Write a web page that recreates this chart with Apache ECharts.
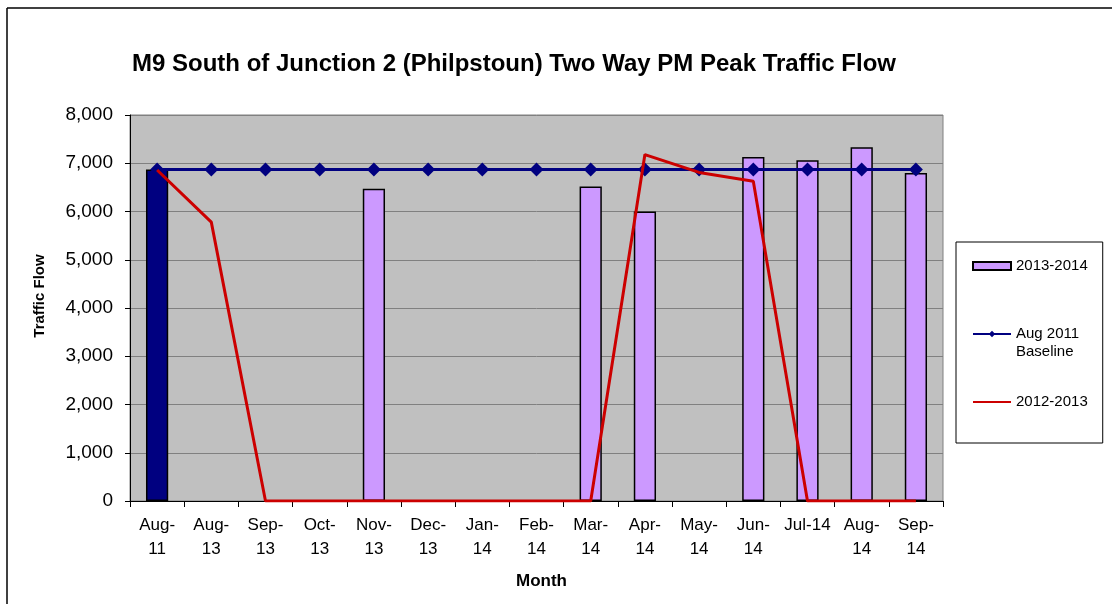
<!DOCTYPE html>
<html>
<head>
<meta charset="utf-8">
<script src="https://cdn.jsdelivr.net/npm/echarts@6/dist/echarts.min.js"></script>
<style>
  html, body {margin: 0; padding: 0; background: #fff;}
  #chart {width: 1112px; height: 604px;}
</style>
</head>
<body>
<div id="chart"></div>
<script>
const months = ['Aug-\n11', 'Aug-\n13', 'Sep-\n13', 'Oct-\n13', 'Nov-\n13', 'Dec-\n13', 'Jan-\n14', 'Feb-\n14',
    'Mar-\n14', 'Apr-\n14', 'May-\n14', 'Jun-\n14', 'Jul-14', 'Aug-\n14', 'Sep-\n14'];
const flow2013 = [6870, null, null, null, 6470, null, null, null, 6520, 6000, null, 7130, 7060, 7330, 6800];
const baseline2011 = [6870, 6870, 6870, 6870, 6870, 6870, 6870, 6870, 6870, 6870, 6870, 6870, 6870, 6870, 6870];
const flow2012 = [6860, 5780, 0, 0, 0, 0, 0, 0, 0, 7180, 6810, 6625, 0, 0, 0];
const yTicks = [0, 1000, 2000, 3000, 4000, 5000, 6000, 7000, 8000];

const font = 'Liberation Sans, Arial, sans-serif';
const chart = echarts.init(document.getElementById('chart'));

// first bar (Aug-11) is drawn navy, the rest lavender
const barData = flow2013.map((v, i) => i === 0
    ? {value: v, itemStyle: {color: '#000080'}}
    : v);

chart.setOption({
    animation: false,
    backgroundColor: '#fff',
    title: {
        text: 'M9 South of Junction 2 (Philpstoun) Two Way PM Peak Traffic Flow',
        left: 127,
        top: 47,
        textStyle: {fontFamily: font, fontSize: 24, fontWeight: 'bold', color: '#000'},
    },
    legend: {
        orient: 'vertical',
        left: 956,
        top: 242,
        padding: [15, 15, 32, 16],
        itemGap: 32,
        itemWidth: 38,
        itemHeight: 8,
        borderColor: '#000',
        borderWidth: 1,
        backgroundColor: '#fff',
        textStyle: {fontFamily: font, fontSize: 15, color: '#000', lineHeight: 18},
        formatter: name => name === 'Aug 2011 Baseline' ? '\nAug 2011\nBaseline' : name,
        data: [
            {name: '2013-2014', icon: 'rect'},
            {name: 'Aug 2011 Baseline'},
            {name: '2012-2013', itemStyle: {opacity: 0}},
        ],
    },
    graphic: [
        {type: 'line', shape: {x1: 7, y1: 8, x2: 1112, y2: 8}, style: {stroke: '#000', lineWidth: 1.5}},
        {type: 'line', shape: {x1: 7, y1: 8, x2: 7, y2: 604}, style: {stroke: '#000', lineWidth: 1.5}},
    ],
    grid: {
        left: 130, right: 169, top: 115, bottom: 103,
        show: true, backgroundColor: '#C0C0C0', borderColor: '#808080', borderWidth: 1,
    },
    xAxis: {
        type: 'category',
        data: months,
        name: 'Month',
        nameLocation: 'middle',
        nameGap: 72,
        nameTextStyle: {fontFamily: font, fontSize: 17, fontWeight: 'bold', color: '#000', padding: [0, 0, 0, 10]},
        axisLine: {lineStyle: {color: '#000', width: 1}},
        axisTick: {show: true, length: 6, lineStyle: {color: '#000'}},
        axisLabel: {interval: 0, margin: 12, fontFamily: font, fontSize: 17, color: '#000', lineHeight: 24},
        splitLine: {show: false},
    },
    yAxis: {
        type: 'value',
        min: yTicks[0],
        max: yTicks[yTicks.length - 1],
        interval: 1000,
        name: 'Traffic Flow',
        nameLocation: 'middle',
        nameGap: 83,
        nameTextStyle: {fontFamily: font, fontSize: 15, fontWeight: 'bold', color: '#000', padding: [0, 0, 0, 24]},
        axisLine: {show: true, lineStyle: {color: '#000', width: 1}},
        axisTick: {show: true, length: 5, lineStyle: {color: '#000'}},
        axisLabel: {
            margin: 17, fontFamily: font, fontSize: 19, color: '#000',
            formatter: v => v.toLocaleString('en-US'),
        },
        splitLine: {lineStyle: {color: '#808080', width: 1}},
    },
    series: [
        {
            name: '2013-2014',
            type: 'bar',
            data: barData,
            barWidth: '41%',
            itemStyle: {color: '#CC99FF', borderColor: '#000', borderWidth: 1.5},
        },
        {
            name: 'Aug 2011 Baseline',
            type: 'line',
            data: baseline2011,
            symbol: 'diamond',
            symbolSize: 14,
            itemStyle: {color: '#000080'},
            lineStyle: {color: '#000080', width: 3},
        },
        {
            name: '2012-2013',
            type: 'line',
            z: 5,
            data: flow2012,
            symbol: 'none',
            itemStyle: {color: '#CC0000'},
            lineStyle: {color: '#CC0000', width: 3},
        },
    ],
});
</script>
</body>
</html>
